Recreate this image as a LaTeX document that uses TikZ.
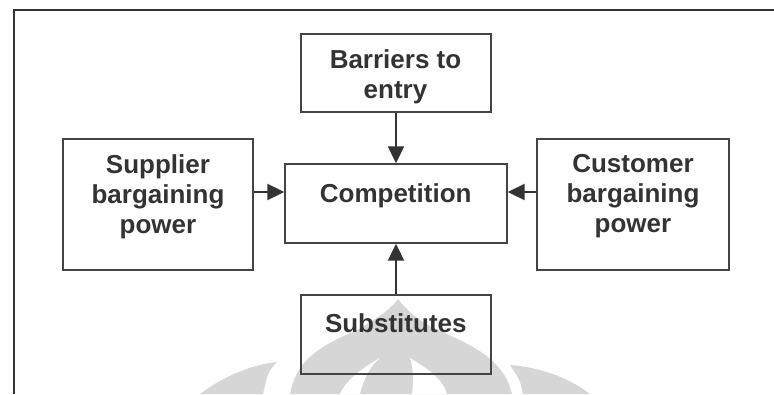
\documentclass[tikz,border=0pt]{standalone}
\usepackage{fontspec}
\setmainfont{Liberation Sans}
\usetikzlibrary{arrows.meta}
\definecolor{ink}{HTML}{333333}
\definecolor{boxline}{HTML}{444444}
\definecolor{wmark}{HTML}{D6D6D6}
\tikzset{
  box/.style={draw=boxline, line width=1.4pt, rectangle, inner sep=0pt},
  lbl/.style={text=ink, font=\fontsize{26}{30}\selectfont\bfseries, align=center, inner sep=0pt},
  arr/.style={draw=ink, line width=2pt, -{Triangle[length=17pt,width=16pt]}},
  frame/.style={draw=ink, line width=2.4pt},
  wm/.style={fill=wmark, draw=none},
  wmcut/.style={fill=white, draw=none}
}
\begin{document}
\begin{tikzpicture}[x=1pt,y=-1pt]
\useasboundingbox (0,0) rectangle (774,394);
% watermark
\fill[wm] (200,394) .. controls (225,375) and (255,364) .. (277,362)
          .. controls (268,372) .. (263,394) -- cycle;
\fill[wm] (290,394) .. controls (296,365) and (310,350) .. (357,330)
          .. controls (375,320) and (390,310) .. (398,299)
          .. controls (408,312) and (420,322) .. (440,331)
          .. controls (490,352) and (505,368) .. (512,394) -- cycle;
\fill[wm] (510,365) .. controls (545,368) and (572,380) .. (590,394)
          -- (523,394) .. controls (520,380) .. (510,365) -- cycle;
\fill[wmcut] (380,358) .. controls (362,368) and (346,380) .. (340,394)
          -- (360,394) .. controls (364,378) and (370,366) .. (380,358) -- cycle;
\fill[wmcut] (410,358) .. controls (430,370) and (443,380) .. (447,394)
          -- (412,394) .. controls (414,380) and (413,368) .. (410,358) -- cycle;
% frame
\coordinate (fTL) at (14,10);
\coordinate (fBL) at (14,394);
\coordinate (fTR) at (774,10);
\draw[frame] (fBL) -- (fTL) -- (fTR);
% boxes
\node[box, minimum width=190pt, minimum height=78pt]  (bar)  at (396,73) {};
\node[box, minimum width=190pt, minimum height=131pt] (sup)  at (158,204.5) {};
\node[box, minimum width=222pt, minimum height=79pt]  (comp) at (396,203.5) {};
\node[box, minimum width=192pt, minimum height=131pt] (cus)  at (633,204.5) {};
\node[box, minimum width=190pt, minimum height=79pt]  (sub)  at (396,334.5) {};
% labels
\node[lbl] (bar-t)  at (395.5,76.4) {Barriers to\\entry};
\node[lbl] (sup-t)  at (158,196.6) {Supplier\\bargaining\\power};
\node[lbl, anchor=base] (comp-t) at (395.7,202.7) {Competition};
\node[lbl] (cus-t)  at (633,196.6) {Customer\\bargaining\\power};
\node[lbl, anchor=base] (sub-t)  at (395.8,332) {Substitutes};
% arrows
\draw[arr] (bar.south) -- (comp.north);
\draw[arr] (sub.north) -- (comp.south);
\draw[arr] (sup.east |- 0,192) -- (comp.west |- 0,192);
\draw[arr] (cus.west |- 0,192) -- (comp.east |- 0,192);
\end{tikzpicture}
\end{document}
